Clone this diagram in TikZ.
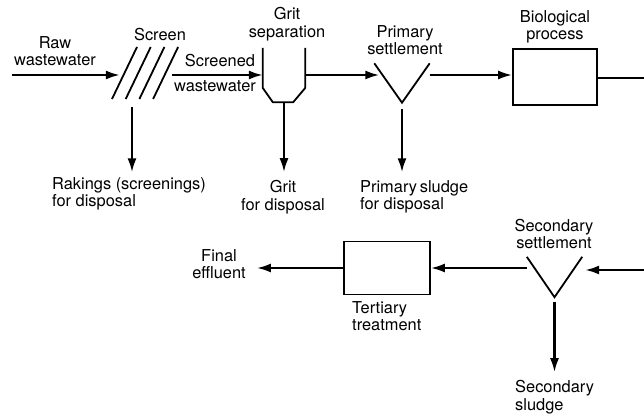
\documentclass[tikz,border=0pt]{standalone}
\usepackage{fontspec}
\setmainfont{TeX Gyre Heros}
\usetikzlibrary{arrows.meta,positioning}
\begin{document}
\begin{tikzpicture}[x=1pt,y=-1pt]
        \tikzset{Unit/.style={%
            shape=rectangle,%
            draw=black,%
            line width=1.8pt,%
            inner sep=0pt,%
        },
        Hidden/.style={%
            shape=rectangle,%
            inner sep=0pt,%
        },
        Label/.style={%
            align=center,%
            inner sep=0pt,%
            font=\fontsize{16.4}{17.5}\selectfont,%
        },
        Flow/.style={-{Latex[length=14pt,width=9pt]},line width=2.2pt},
        Wall/.style={line width=1.8pt}}
        \useasboundingbox (0,0) rectangle (644,414);

        % units on the upper line
        \coordinate (rawin) at (12,75);
        \node[Hidden, minimum width=52pt, minimum height=52pt] (screen) at (146,75) {};
        \foreach \i in {0,...,3}
            \draw[Wall] (112+13.7*\i,99) -- (137+13.7*\i,47);
        \node[Hidden, minimum width=42pt, minimum height=54pt] (grit) at (284,75) {};
        \draw[Wall] (grit.north west) -- ([yshift=-13pt]grit.west) -- ([xshift=10pt]grit.south west)
            -- ([xshift=-12pt]grit.south east) -- ([yshift=-13pt]grit.east) -- (grit.north east);
        \node[Hidden, minimum width=55pt, minimum height=39pt] (prim) at (402,83) {};
        \draw[Wall] (prim.north west) -- (prim.south) -- (prim.north east);
        \node[Unit, minimum width=84pt, minimum height=56pt] (bio) at (555,77) {};
        \coordinate (bioout) at (644,78);

        % units on the lower line
        \coordinate (secin) at (644,270);
        \node[Hidden, minimum width=55pt, minimum height=40pt] (sec) at (554.5,277) {};
        \draw[Wall] (sec.north west) -- (sec.south) -- (sec.north east);
        \node[Unit, minimum width=86pt, minimum height=53pt] (tert) at (387,268) {};

        % labels
        \node[Label] (rawlbl) at (55,51) {Raw\\wastewater};
        \node[Label] (screenlbl) at (160,35) {Screen};
        \node[Label] (screened) at (220,61) {Screened};
        \node[Label] (wastew) at (215,86) {wastewater};
        \node[Label] (gritlbl) at (287,24) {Grit\\separation};
        \node[Label] (primlbl) at (405,40) {Primary\\settlement};
        \node[Label] (biolbl) at (555,27) {Biological\\process};
        \node[Label, align=left, anchor=west] (rakings) at (52,194) {Rakings (screenings)\\for disposal};
        \node[Label] (gritdisp) at (283,197) {Grit\\for disposal};
        \node[Label, align=left, anchor=west] (primdisp) at (360,197) {Primary\,sludge\\for disposal};
        \node[Label] (seclbl) at (554,234) {Secondary\\settlement};
        \node[Label, align=left, anchor=west] (tertlbl) at (352,316) {Tertiary\\treatment};
        \node[Label] (final) at (219,264) {Final\\effluent};
        \node[Label, align=left, anchor=west] (secsludge) at (515,397) {Secondary\\sludge};

        % flows
        \coordinate (rakeout) at (132,107);
        \draw[Flow] (rawin) -- (screen.west);
        \draw[Flow] (screen.east) -- (grit.west);
        \draw[Flow, shorten >=-5pt] (grit.east) -- (grit.east -| prim.west);
        \draw[Flow] (grit.east -| prim.east) -- (grit.east -| bio.west);
        \draw[line width=2.2pt] (bioout -| bio.east) -- (bioout);
        \draw[Flow, shorten >=5pt] (rakeout) -- (rakeout |- rakings.north);
        \draw[Flow, shorten >=8pt] (grit.south) -- (grit.south |- gritdisp.north);
        \draw[Flow, shorten <=6pt, shorten >=8pt] (prim.south) -- (prim.south |- primdisp.north);
        \draw[Flow, shorten >=3pt] (secin) -- (secin -| sec.east);
        \draw[Flow] (tert.east -| sec.west) -- (tert.east);
        \draw[Flow, shorten >=11pt] (tert.west) -- (tert.west -| final.east);
        \draw[Flow, shorten <=5pt, shorten >=8pt] (sec.south) -- (sec.south |- secsludge.north);
\end{tikzpicture}
\end{document}
